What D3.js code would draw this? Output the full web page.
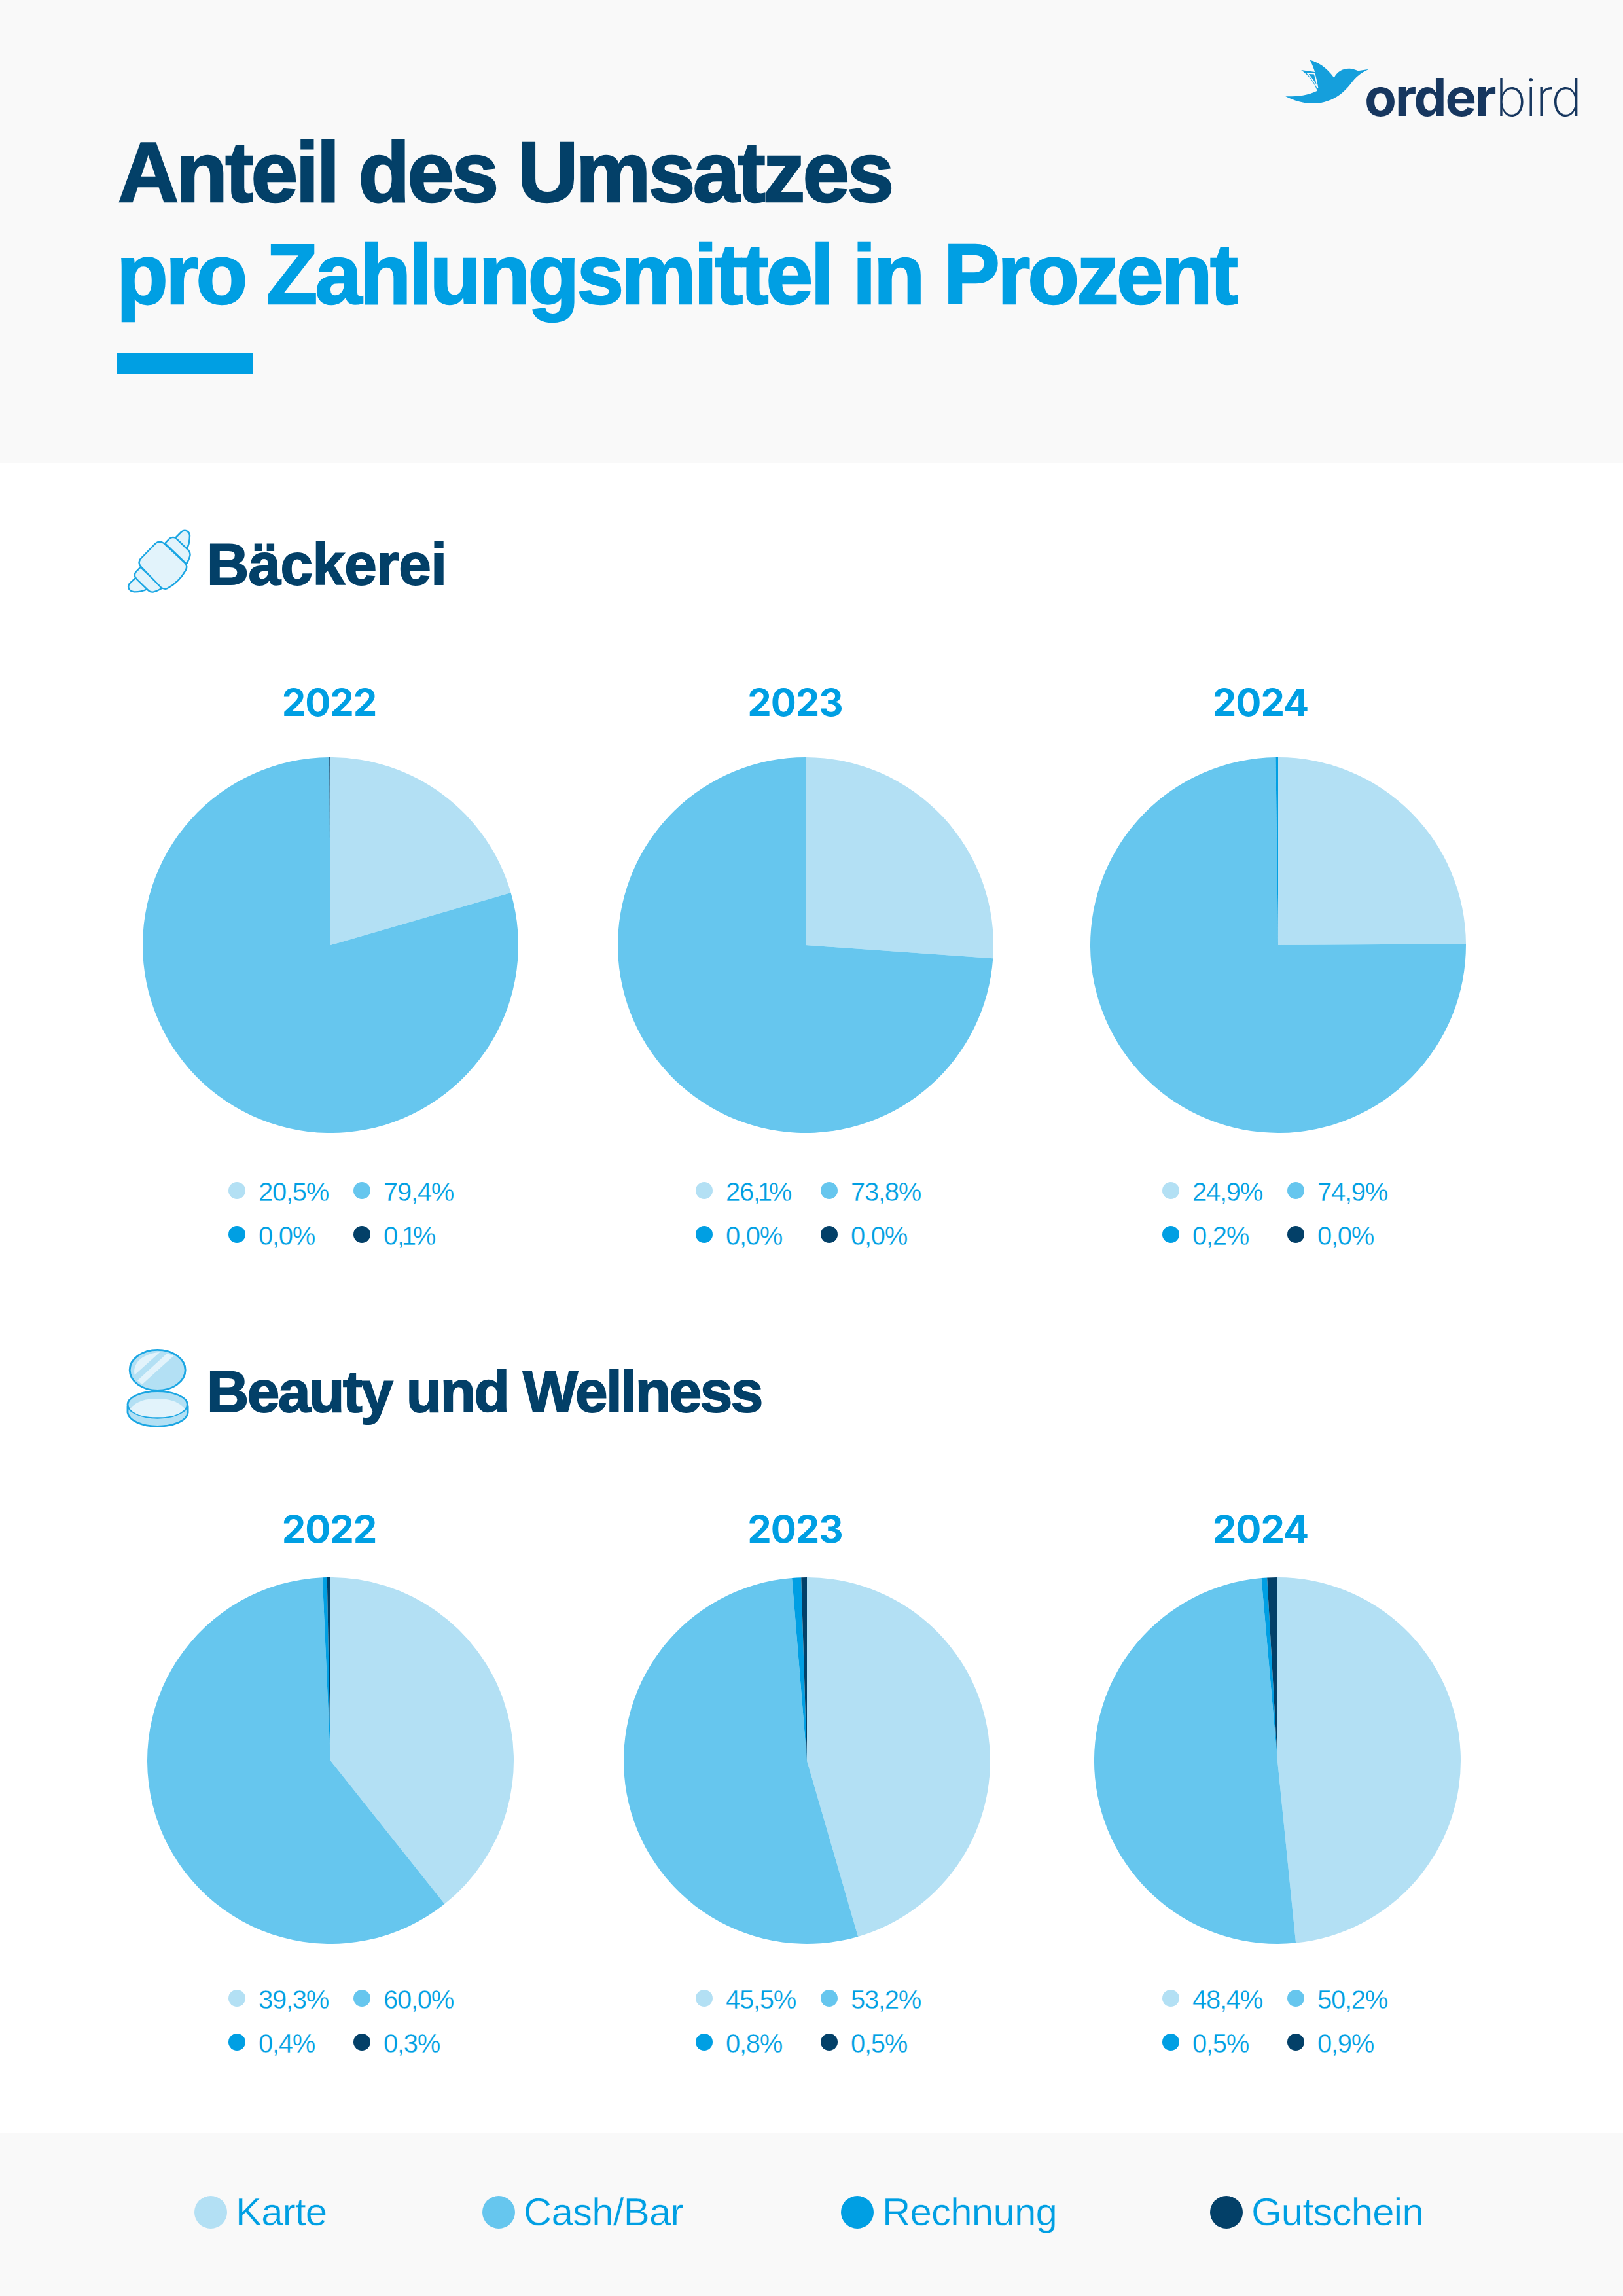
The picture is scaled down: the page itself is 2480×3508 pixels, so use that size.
<!DOCTYPE html>
<html>
<head>
<meta charset="utf-8">
<script src="https://cdn.jsdelivr.net/npm/d3@7"></script>
<style>
    html, body { margin: 0; padding: 0; background: #fff; }
    svg { display: block; }
    text { font-family: "Liberation Sans", sans-serif; }
    .inter { font-family: Inter, sans-serif; }
</style>
</head>
<body>
<div id="chart"></div>
<script>
// Values
const paymentTypes = ['Karte', 'Cash/Bar', 'Rechnung', 'Gutschein'];
const years = ['2022', '2023', '2024'];

const baeckerei2022 = [20.5, 79.4, 0.0, 0.1];
const baeckerei2023 = [26.1, 73.8, 0.0, 0.0];
const baeckerei2024 = [24.9, 74.9, 0.2, 0.0];
const beauty2022 = [39.3, 60.0, 0.4, 0.3];
const beauty2023 = [45.5, 53.2, 0.8, 0.5];
const beauty2024 = [48.4, 50.2, 0.5, 0.9];

const colors = ['#b3e0f4', '#66c6ee', '#009fe3', '#034068'];
const blue = '#009fe3';
const dark = '#034068';
const grey = '#f9f9f9';

const svg = d3.select('#chart')
    .append('svg')
    .attr('width', 2480)
    .attr('height', 3508);

// Backgrounds
svg.append('rect').attr('width', 2480).attr('height', 3508).attr('fill', '#fff');
svg.append('rect').attr('width', 2480).attr('height', 707).attr('fill', grey);
svg.append('rect').attr('y', 3259).attr('width', 2480).attr('height', 249).attr('fill', grey);

// Title
svg.append('text').attr('x', 180).attr('y', 308)
    .attr('font-size', 129).attr('font-weight', 700).attr('letter-spacing', -3.8)
    .attr('stroke', dark).attr('stroke-width', 2.5)
    .attr('fill', dark).text('Anteil des Umsatzes');
svg.append('text').attr('x', 178).attr('y', 464)
    .attr('font-size', 129).attr('font-weight', 700).attr('letter-spacing', -3.8)
    .attr('stroke', blue).attr('stroke-width', 2.5)
    .attr('fill', blue).text('pro Zahlungsmittel in Prozent');
svg.append('rect').attr('x', 179).attr('y', 539).attr('width', 208).attr('height', 33).attr('fill', blue);

// Logo
const logo = svg.append('g');
logo.append('path')
    .attr('transform', 'translate(1900,40) scale(0.357,0.3333)')
    .attr('fill', '#159fdc')
    .attr('d', 'M180,322 C225,323 275,318 316,296 C305,262 280,225 247,201 L306,210 C300,190 293,172 285,155 C330,168 362,198 388,237 C400,208 425,193 455,194 C470,196 482,200 491,205 L537,197 C510,210 485,228 468,252 C440,292 405,332 345,348 C285,364 230,348 180,322 Z');
logo.append('path')
    .attr('transform', 'translate(1900,40) scale(0.357,0.3333)')
    .attr('fill', 'none').attr('stroke', grey).attr('stroke-width', 5)
    .attr('d', 'M274,216 C293,240 308,262 318,284 C314,260 310,236 304,218 Z');
logo.append('text').attr('class', 'inter').attr('x', 2085).attr('y', 177)
    .attr('font-size', 80).attr('font-weight', 700).attr('letter-spacing', -2.2)
    .attr('fill', '#17375f').text('order');
logo.append('text').attr('class', 'inter').attr('x', 2285).attr('y', 177)
    .attr('font-size', 80).attr('font-weight', 200).attr('letter-spacing', -2)
    .attr('fill', '#17375f').text('bird');

// Section icons
function croissant(g) {
    g.attr('fill', '#e2f3fb').attr('stroke', '#1ba6e3').attr('stroke-width', 7).attr('stroke-linejoin', 'round');
    g.append('path').attr('d', 'M105,308 L78,335 C68,350 75,372 100,373 C120,373 140,368 155,360 Z');
    g.append('path').attr('d', 'M275,125 L300,98 C315,85 335,95 336,115 C336,140 330,165 320,185 Z');
    g.append('path').attr('d', 'M125,260 L105,282 C95,295 102,308 112,318 L160,368 C172,378 185,376 220,355 Z');
    g.append('path').attr('d', 'M230,150 L250,128 C260,120 272,122 280,130 L330,182 C342,195 340,210 322,245 Z');
    g.append('path').attr('d', 'M190,150 C200,141 215,141 225,150 L315,240 C325,250 325,262 318,275 C300,310 270,340 240,357 C230,362 220,358 212,352 L125,255 C118,245 118,232 125,222 Z');
}
function compact(g) {
    g.attr('stroke-linejoin', 'round');
    g.append('ellipse').attr('cx', 198).attr('cy', 160).attr('rx', 119).attr('ry', 93)
        .attr('fill', '#b3e0f4').attr('stroke', '#1ba6e3').attr('stroke-width', 8);
    g.append('path').attr('fill', '#e2f3fb').attr('d', 'M100,182 C90,135 125,85 208,78 Z');
    g.append('path').attr('fill', '#e2f3fb').attr('d', 'M112,208 L238,84 L268,94 L132,226 Z');
    g.append('path').attr('d', 'M70,325 L70,355 C75,390 130,418 198,418 C270,418 325,390 328,355 L328,325 Z')
        .attr('fill', '#b3e0f4').attr('stroke', '#1ba6e3').attr('stroke-width', 8);
    g.append('ellipse').attr('cx', 198).attr('cy', 318).attr('rx', 128).attr('ry', 61)
        .attr('fill', '#b3e0f4').attr('stroke', '#1ba6e3').attr('stroke-width', 8);
    g.append('path').attr('fill', '#e2f3fb')
        .attr('d', 'M80,338 C110,300 150,291 198,291 C250,291 290,305 316,338 C290,368 250,376 198,376 C145,376 105,368 80,338 Z');
}

const sections = [
    {
        title: 'Bäckerei', titleY: 893, titleSpacing: -0.6, yearY: 1094, pieY: 1444, radius: 287, legendY: 1819,
        pieX: [505, 1231, 1953], rows: [baeckerei2022, baeckerei2023, baeckerei2024],
        icon: croissant, iconOrigin: [170, 780]
    },
    {
        title: 'Beauty und Wellness', titleY: 2157, titleSpacing: -2.4, yearY: 2357, pieY: 2690, radius: 280, legendY: 3053,
        pieX: [505, 1233, 1952], rows: [beauty2022, beauty2023, beauty2024],
        icon: compact, iconOrigin: [170, 2040]
    }
];

const yearX = [503, 1215, 1926];
const legendX = [362, 1076, 1789];
const fmt = v => v.toFixed(1).replace('.', ',') + '%';
const pie = d3.pie().sort(null).value(d => d);

// The "1" sits tighter in the reference's digits
const oneKern = s => s.split('').map((c, i) => c === '1' ? -3 : (s[i - 1] === '1' ? -4 : 0)).join(' ');

sections.forEach(s => {
    const icon = svg.append('g')
        .attr('transform', `translate(${s.iconOrigin[0]},${s.iconOrigin[1]}) scale(0.357,0.3333)`);
    s.icon(icon);

    svg.append('text').attr('x', 316).attr('y', s.titleY)
        .attr('font-size', 89).attr('font-weight', 700).attr('letter-spacing', s.titleSpacing)
        .attr('stroke', dark).attr('stroke-width', 2)
        .attr('fill', dark).text(s.title);

    const arc = d3.arc().innerRadius(0).outerRadius(s.radius);

    s.rows.forEach((row, i) => {
        svg.append('text').attr('class', 'inter').attr('x', yearX[i]).attr('y', s.yearY)
            .attr('text-anchor', 'middle').attr('font-size', 58).attr('font-weight', 700)
            .attr('letter-spacing', -1).attr('fill', blue).text(years[i]);

        svg.append('g')
            .attr('transform', `translate(${s.pieX[i]},${s.pieY})`)
            .selectAll('path')
            .data(pie(row))
            .enter()
            .append('path')
            .attr('d', arc)
            .attr('fill', (d, j) => colors[j]);

        // Small legend, two columns by two rows
        const items = svg.append('g').selectAll('g')
            .data(row)
            .enter()
            .append('g')
            .attr('transform', (d, j) =>
                `translate(${legendX[i] + (j % 2) * 191},${s.legendY + Math.floor(j / 2) * 67})`);
        items.append('circle').attr('r', 13).attr('fill', (d, j) => colors[j]);
        items.append('text')
            .attr('x', 33).attr('y', 16)
            .attr('dx', d => oneKern(fmt(d)))
            .attr('font-size', 40).attr('letter-spacing', -1.3)
            .attr('stroke', '#fff').attr('stroke-width', 0.3)
            .attr('fill', blue).text(d => fmt(d));
    });
});

// Footer legend
const footerX = [322, 762, 1310, 1874];
const footer = svg.append('g').selectAll('g')
    .data(paymentTypes)
    .enter()
    .append('g')
    .attr('transform', (d, i) => `translate(${footerX[i]},3380)`);
footer.append('circle').attr('r', 25).attr('fill', (d, i) => colors[i]);
footer.append('text')
    .attr('x', 38).attr('y', 20)
    .attr('font-size', 60).attr('letter-spacing', -0.8)
    .attr('stroke', grey).attr('stroke-width', 0.4)
    .attr('fill', blue).text(d => d);
</script>
</body>
</html>
